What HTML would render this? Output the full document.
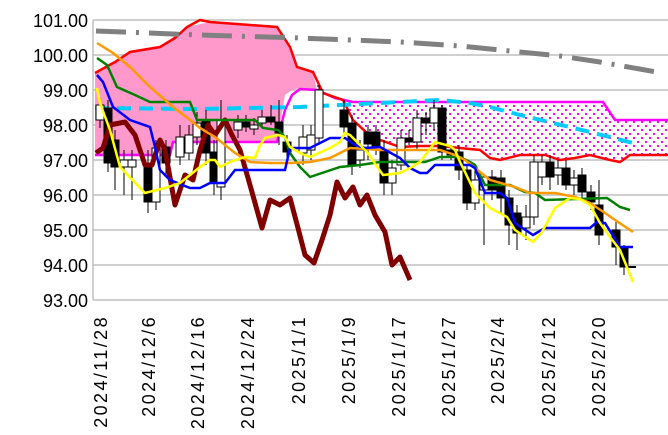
<!DOCTYPE html>
<html><head><meta charset="utf-8"><style>
html,body{margin:0;padding:0;background:#fff;}
svg{display:block;font-family:"Liberation Sans",sans-serif;}
</style></head><body>
<svg width="668" height="435" viewBox="0 0 668 435" xmlns="http://www.w3.org/2000/svg">
<defs>
<pattern id="dots" width="8" height="8" patternUnits="userSpaceOnUse">
<rect width="8" height="8" fill="#fff"/>
<rect x="1" y="1" width="2" height="2" fill="#ff00ff"/>
<rect x="5" y="5" width="2" height="2" fill="#ff00ff"/>
</pattern>
</defs>
<g stroke="#bfbfbf" stroke-width="1.5">
<line x1="93" y1="20" x2="668" y2="20"/><line x1="93" y1="55" x2="668" y2="55"/>
<line x1="93" y1="90" x2="668" y2="90"/><line x1="93" y1="125" x2="668" y2="125"/>
<line x1="93" y1="160" x2="668" y2="160"/><line x1="93" y1="195" x2="668" y2="195"/>
<line x1="93" y1="230" x2="668" y2="230"/><line x1="93" y1="265" x2="668" y2="265"/>
<line x1="93" y1="300" x2="668" y2="300"/>
<line x1="93" y1="20" x2="93" y2="300"/>
</g>
<g font-size="18" text-anchor="end" fill="#000">
<text x="88" y="27">101.00</text><text x="88" y="62">100.00</text><text x="88" y="97">99.00</text>
<text x="88" y="132">98.00</text><text x="88" y="167">97.00</text><text x="88" y="202">96.00</text>
<text x="88" y="237">95.00</text><text x="88" y="272">94.00</text><text x="88" y="307">93.00</text>
</g>
<g font-size="18" text-anchor="end" fill="#000" letter-spacing="2.4">
<text transform="translate(107,315) rotate(-90)">2024/11/28</text>
<text transform="translate(155,315) rotate(-90)">2024/12/6</text>
<text transform="translate(204,315) rotate(-90)">2024/12/16</text>
<text transform="translate(254,315) rotate(-90)">2024/12/24</text>
<text transform="translate(305,315) rotate(-90)">2025/1/1</text>
<text transform="translate(355,315) rotate(-90)">2025/1/9</text>
<text transform="translate(405,315) rotate(-90)">2025/1/17</text>
<text transform="translate(455,315) rotate(-90)">2025/1/27</text>
<text transform="translate(504,315) rotate(-90)">2025/2/4</text>
<text transform="translate(555,315) rotate(-90)">2025/2/12</text>
<text transform="translate(605,315) rotate(-90)">2025/2/20</text>
</g>
<!-- pink cloud -->
<polygon fill="#ff99cc" points="95,73 130,52 160,47 187,27 210,22 250,25 277,27 290,47 297,67 313,72 317,90 300,88 292,90 285,95 277,142 173,142 170,155 95,155"/>
<!-- dotted cloud -->
<polygon fill="url(#dots)" points="313,72 323,93 343,100 353,120 367,133 380,140 400,147 420,146 440,146 460,148 480,150 500,160 520,155 545,155 560,160 575,158 590,155 610,160 620,162 630,155 668,155 668,120 615,120 603,103 353,102 317,90"/>
<polyline fill="none" stroke="#ff00ff" stroke-width="2.5" points="95,155 170,155 173,142 277,142 285,110 292,95 300,89 317,90 335,98 353,102 603,102 615,120 668,120"/>
<polyline fill="none" stroke="#ff0000" stroke-width="2.5" points="95,73 115,62 130,52 160,47 175,38 187,27 200,20 210,22 250,25 277,27 290,47 297,67 313,72 323,93 343,100 353,120 367,133 380,140 400,147 420,146 440,146 460,148 480,150 490,158 500,160 520,155 545,155 560,160 575,158 590,155 610,160 620,162 630,155 668,155"/>
<polyline fill="none" stroke="#808080" stroke-width="5" stroke-dasharray="30,10,3,10" points="96,31 200,35 300,38 400,42 460,46 500,50 560,56 600,62 662,73"/>
<polyline fill="none" stroke="#00ccff" stroke-width="4" stroke-dasharray="14,8" points="95,108 200,109 300,107 380,103 440,100 470,103 490,107 520,115 553,123 590,132 633,143"/>
<!-- candles -->
<g stroke="#000" stroke-width="1">
<line x1="100" y1="98" x2="100" y2="128"/><rect x="96" y="105" width="8" height="15" fill="#fff"/>
<line x1="108" y1="100" x2="108" y2="172"/><rect x="104" y="108" width="8" height="55" fill="#000"/>
<line x1="115" y1="130" x2="115" y2="190"/><rect x="111" y="140" width="8" height="27" fill="#000"/>
<line x1="124" y1="150" x2="124" y2="195"/><rect x="120" y="160" width="8" height="7" fill="#fff"/>
<line x1="132" y1="150" x2="132" y2="200"/><rect x="128" y="160" width="8" height="7" fill="#fff"/>
<line x1="148" y1="150" x2="148" y2="213"/><rect x="144" y="163" width="8" height="39" fill="#000"/>
<line x1="156" y1="140" x2="156" y2="210"/><rect x="152" y="148" width="8" height="54" fill="#fff"/>
<line x1="166" y1="140" x2="166" y2="175"/><rect x="162" y="147" width="8" height="16" fill="#000"/>
<line x1="180" y1="125" x2="180" y2="165"/><rect x="176" y="137" width="8" height="20" fill="#fff"/>
<line x1="189" y1="125" x2="189" y2="160"/><rect x="185" y="135" width="8" height="18" fill="#fff"/>
<line x1="197" y1="112" x2="197" y2="145"/><rect x="193" y="123" width="8" height="14" fill="#fff"/>
<line x1="206" y1="110" x2="206" y2="165"/><rect x="202" y="120" width="8" height="33" fill="#000"/>
<line x1="214" y1="140" x2="214" y2="195"/><rect x="210" y="152" width="8" height="31" fill="#000"/>
<line x1="221" y1="100" x2="221" y2="200"/><rect x="217" y="120" width="8" height="67" fill="#fff"/>
<line x1="238" y1="115" x2="238" y2="138"/><rect x="234" y="122" width="8" height="8" fill="#fff"/>
<line x1="246" y1="115" x2="246" y2="132"/><rect x="242" y="122" width="8" height="5" fill="#000"/>
<line x1="254" y1="118" x2="254" y2="135"/><rect x="250" y="125" width="8" height="4" fill="#fff"/>
<line x1="262" y1="110" x2="262" y2="128"/><rect x="258" y="117" width="8" height="6" fill="#fff"/>
<line x1="271" y1="105" x2="271" y2="125"/><rect x="267" y="117" width="8" height="5" fill="#000"/>
<line x1="279" y1="100" x2="279" y2="145"/><rect x="275" y="122" width="8" height="11" fill="#000"/>
<line x1="287" y1="135" x2="287" y2="160"/><rect x="283" y="142" width="8" height="10" fill="#000"/>
<line x1="303" y1="125" x2="303" y2="165"/><rect x="299" y="137" width="8" height="16" fill="#fff"/>
<line x1="311" y1="125" x2="311" y2="160"/><rect x="307" y="135" width="8" height="15" fill="#fff"/>
<line x1="319" y1="85" x2="319" y2="145"/><rect x="315" y="90" width="8" height="48" fill="#fff"/>
<line x1="344" y1="100" x2="344" y2="135"/><rect x="340" y="110" width="8" height="17" fill="#000"/>
<line x1="352" y1="115" x2="352" y2="175"/><rect x="348" y="123" width="8" height="42" fill="#000"/>
<line x1="360" y1="140" x2="360" y2="168"/><rect x="356" y="150" width="8" height="10" fill="#fff"/>
<line x1="368" y1="125" x2="368" y2="160"/><rect x="364" y="132" width="8" height="12" fill="#000"/>
<line x1="376" y1="125" x2="376" y2="155"/><rect x="372" y="132" width="8" height="15" fill="#000"/>
<line x1="384" y1="140" x2="384" y2="195"/><rect x="380" y="150" width="8" height="33" fill="#000"/>
<line x1="392" y1="160" x2="392" y2="195"/><rect x="388" y="168" width="8" height="15" fill="#fff"/>
<line x1="401" y1="130" x2="401" y2="170"/><rect x="397" y="138" width="8" height="27" fill="#fff"/>
<line x1="409" y1="130" x2="409" y2="145"/><rect x="405" y="138" width="8" height="4" fill="#000"/>
<line x1="417" y1="110" x2="417" y2="150"/><rect x="413" y="118" width="8" height="24" fill="#fff"/>
<line x1="426" y1="112" x2="426" y2="135"/><rect x="422" y="118" width="8" height="5" fill="#000"/>
<line x1="434" y1="100" x2="434" y2="130"/><rect x="430" y="108" width="8" height="15" fill="#fff"/>
<line x1="442" y1="105" x2="442" y2="160"/><rect x="438" y="108" width="8" height="44" fill="#000"/>
<line x1="451" y1="145" x2="451" y2="160"/><rect x="447" y="150" width="8" height="5" fill="#000"/>
<line x1="459" y1="145" x2="459" y2="180"/><rect x="455" y="152" width="8" height="18" fill="#000"/>
<line x1="467" y1="165" x2="467" y2="210"/><rect x="463" y="170" width="8" height="33" fill="#000"/>
<line x1="475" y1="165" x2="475" y2="210"/><rect x="471" y="180" width="8" height="23" fill="#fff"/>
<line x1="484" y1="175" x2="484" y2="245"/><rect x="480" y="177" width="8" height="13" fill="#fff"/>
<line x1="492" y1="170" x2="492" y2="200"/><rect x="488" y="177" width="8" height="13" fill="#000"/>
<line x1="501" y1="170" x2="501" y2="215"/><rect x="497" y="178" width="8" height="20" fill="#000"/>
<line x1="509" y1="190" x2="509" y2="245"/><rect x="505" y="198" width="8" height="27" fill="#000"/>
<line x1="517" y1="205" x2="517" y2="250"/><rect x="513" y="213" width="8" height="20" fill="#000"/>
<line x1="526" y1="205" x2="526" y2="240"/><rect x="522" y="217" width="8" height="11" fill="#fff"/>
<line x1="534" y1="155" x2="534" y2="225"/><rect x="530" y="162" width="8" height="55" fill="#fff"/>
<line x1="542" y1="155" x2="542" y2="185"/><rect x="538" y="162" width="8" height="15" fill="#fff"/>
<line x1="550" y1="155" x2="550" y2="190"/><rect x="546" y="162" width="8" height="15" fill="#000"/>
<line x1="558" y1="160" x2="558" y2="185"/><rect x="554" y="168" width="8" height="7" fill="#fff"/>
<line x1="566" y1="160" x2="566" y2="190"/><rect x="562" y="168" width="8" height="17" fill="#000"/>
<line x1="574" y1="170" x2="574" y2="195"/><rect x="570" y="178" width="8" height="7" fill="#fff"/>
<line x1="582" y1="168" x2="582" y2="200"/><rect x="578" y="175" width="8" height="17" fill="#000"/>
<line x1="591" y1="185" x2="591" y2="210"/><rect x="587" y="192" width="8" height="10" fill="#000"/>
<line x1="599" y1="180" x2="599" y2="245"/><rect x="595" y="205" width="8" height="30" fill="#000"/>
<line x1="616" y1="222" x2="616" y2="265"/><rect x="612" y="230" width="8" height="17" fill="#000"/>
<line x1="624" y1="245" x2="624" y2="275"/><rect x="620" y="247" width="8" height="20" fill="#000"/>
<line x1="628" y1="267" x2="636" y2="267" stroke-width="2"/>
</g>
<!-- lines -->
<polyline fill="none" stroke="#800000" stroke-width="5" stroke-linejoin="round" points="96,153 103,148 110,125 125,122 135,135 145,165 152,165 160,140 165,150 175,205 185,175 193,180 200,150 208,125 215,135 225,120 232,135 240,150 250,185 262,228 270,200 280,205 290,198 298,228 305,255 314,263 322,240 330,215 337,182 345,198 353,187 360,205 367,195 375,215 385,232 392,265 400,257 410,280"/>
<polyline fill="none" stroke="#008000" stroke-width="2.5" points="97,58 107,65 117,87 135,95 150,102 190,102 197,120 255,120 263,128 278,130 285,137 290,153 300,167 310,177 340,167 360,165 380,162 425,162 440,157 460,157 470,162 475,165 485,185 510,185 525,192 535,193 545,200 607,198 620,207 630,210"/>
<polyline fill="none" stroke="#ff9900" stroke-width="2.5" points="97,43 113,53 130,67 150,87 173,107 190,120 200,128 215,137 235,153 250,162 270,163 290,163 310,162 330,158 340,153 350,148 365,149 380,150 440,150 455,155 465,160 475,168 490,180 515,187 530,193 555,193 575,197 590,203 605,213 615,220 633,232"/>
<polyline fill="none" stroke="#0000ff" stroke-width="2.5" points="97,75 103,82 113,107 130,120 150,127 155,147 160,170 170,180 190,188 200,188 210,183 225,183 235,170 285,170 290,148 310,148 330,138 345,138 355,145 365,148 380,147 400,158 410,168 420,173 427,173 435,165 470,165 475,168 485,193 500,193 507,198 515,223 533,235 545,228 590,228 597,222 605,223 620,247 633,247"/>
<polyline fill="none" stroke="#ffff00" stroke-width="2.5" points="97,88 100,103 110,130 120,167 145,193 165,188 180,183 200,167 210,160 215,160 220,167 230,162 245,157 255,158 260,145 265,138 278,135 285,137 290,147 300,153 310,157 330,148 340,142 345,133 350,135 357,142 367,152 383,175 400,173 410,168 420,162 435,142 450,146 455,150 460,162 465,172 475,193 490,208 507,217 515,230 533,242 542,232 555,208 570,198 580,199 590,205 600,223 610,237 620,250 633,282"/>
</svg>
</body></html>
